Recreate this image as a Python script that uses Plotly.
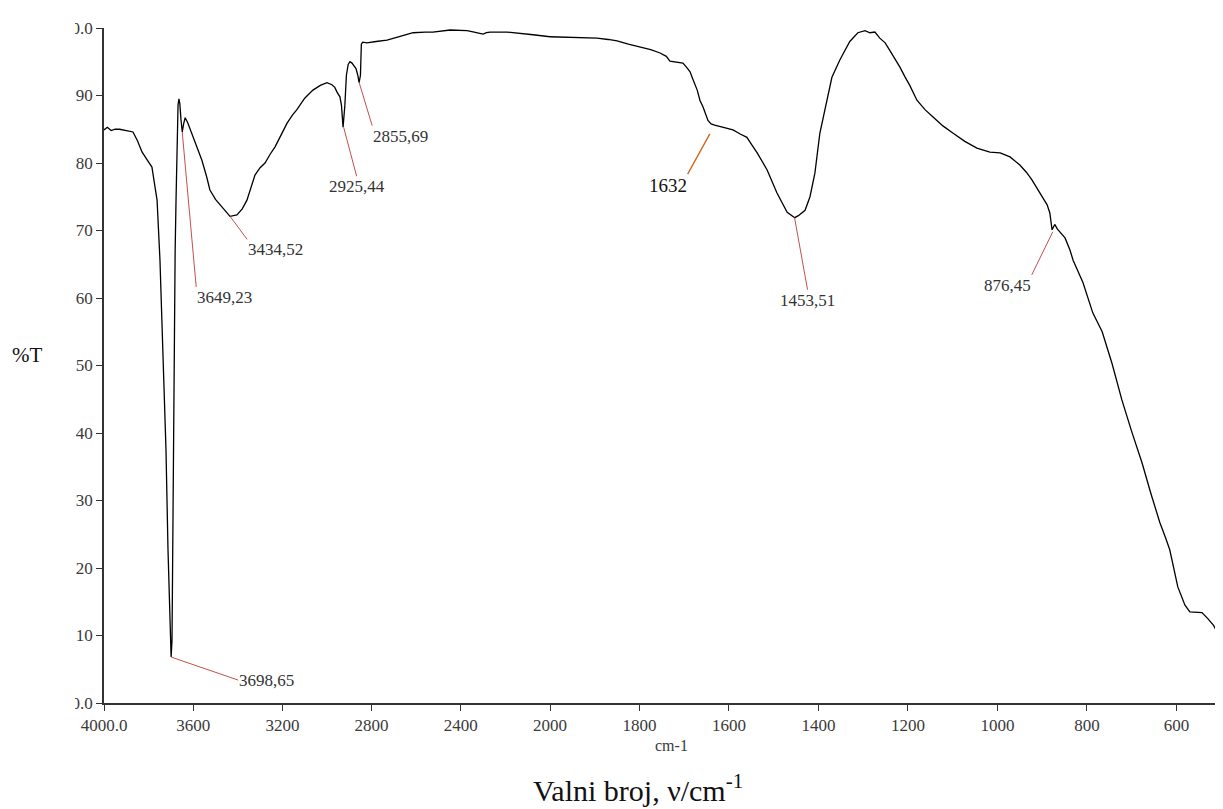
import plotly.graph_objects as go

# ---------------- data ----------------
wavenumber = [4000, 3985, 3968, 3950, 3930, 3910, 3890, 3870, 3850, 3829, 3805, 3785, 3771, 3762,
              3749, 3735, 3722, 3713, 3704, 3699, 3695, 3690, 3686, 3681, 3677, 3672, 3668, 3664,
              3660, 3655, 3649, 3643, 3636, 3625, 3612, 3601, 3580, 3561, 3540, 3525, 3500, 3480,
              3455, 3435, 3404, 3380, 3359, 3340, 3323, 3300, 3278, 3255, 3233, 3205, 3179, 3155,
              3135, 3100, 3063, 3030, 3000, 2978, 2965, 2955, 2942, 2935, 2928, 2920, 2913, 2905,
              2897, 2888, 2880, 2870, 2862, 2856, 2850, 2846, 2840, 2821, 2780, 2731, 2680, 2614,
              2560, 2525, 2448, 2400, 2372, 2340, 2310, 2300, 2285, 2269, 2193, 2120, 2076, 2000,
              1950, 1895, 1870, 1850, 1825, 1799, 1775, 1754, 1740, 1732, 1715, 1703, 1695, 1687,
              1680, 1671, 1665, 1658, 1647, 1640, 1632, 1613, 1591, 1575, 1560, 1549, 1537, 1515,
              1493, 1470, 1453, 1445, 1430, 1419, 1408, 1397, 1381, 1370, 1352, 1330, 1312, 1296,
              1285, 1274, 1263, 1251, 1240, 1229, 1218, 1207, 1196, 1180, 1162, 1144, 1122, 1099,
              1073, 1046, 1017, 994, 972, 950, 935, 923, 905, 889, 883, 878, 872, 866, 849, 838,
              831, 809, 787, 766, 744, 722, 700, 677, 657, 637, 625, 615, 597, 581, 570, 555, 543,
              530, 517, 505, 496]
transmittance = [84.9, 85.3, 84.8, 85.0, 85.0, 84.9, 84.8, 84.6, 83.3, 81.6, 80.4, 79.4, 76.4, 74.5,
                 65.6, 52.3, 37.5, 22.7, 9.3, 6.8, 9.3, 30.0, 52.0, 67.0, 74.5, 85.0, 88.6, 89.5,
                 88.8, 86.5, 84.6, 85.8, 86.7, 86.0, 84.8, 83.9, 82.1, 80.4, 78.0, 76.0, 74.6, 73.8,
                 72.8, 72.1, 72.3, 73.2, 74.5, 76.5, 78.2, 79.3, 80.0, 81.3, 82.4, 84.2, 85.9, 87.1,
                 87.9, 89.6, 90.8, 91.5, 91.9, 91.6, 91.2, 90.5, 89.8, 88.5, 85.3, 88.5, 93.0, 94.6,
                 95.0, 94.8, 94.5, 94.0, 93.0, 91.9, 93.0, 97.6, 97.9, 97.8, 98.0, 98.2, 98.7, 99.3,
                 99.4, 99.4, 99.7, 99.6, 99.6, 99.4, 99.2, 99.1, 99.3, 99.4, 99.4, 99.2, 99.0, 98.7,
                 98.6, 98.5, 98.3, 98.1, 97.6, 97.2, 96.8, 96.3, 95.8, 95.1, 94.9, 94.8, 94.2, 93.5,
                 92.3, 90.8, 89.3, 88.3, 86.3, 85.8, 85.6, 85.3, 84.9, 84.3, 83.8, 82.7, 81.5, 79.0,
                 75.6, 72.7, 71.9, 72.2, 73.0, 75.0, 78.5, 84.4, 89.3, 92.7, 95.3, 98.0, 99.3, 99.6,
                 99.3, 99.4, 98.5, 97.8, 96.6, 95.5, 94.2, 92.8, 91.5, 89.3, 87.9, 86.8, 85.5, 84.4,
                 83.2, 82.2, 81.6, 81.5, 80.9, 79.7, 78.6, 77.5, 75.6, 73.8, 72.6, 70.1, 70.9, 70.2,
                 68.9, 67.1, 65.6, 62.3, 57.8, 55.0, 50.3, 44.9, 40.2, 35.6, 31.0, 26.7, 24.6, 22.7,
                 17.2, 14.5, 13.5, 13.5, 13.4, 12.5, 11.5, 10.0, 8.3]

# axis break (scale changes at 2000 cm-1)
break_wn = 2000
x_high_ticks = [4000, 3600, 3200, 2800, 2400, 2000]
x_high_text = ["4000.0", "3600", "3200", "2800", "2400", "2000"]
x_low_ticks = [1800, 1600, 1400, 1200, 1000, 800, 600]
x_low_text = ["1800", "1600", "1400", "1200", "1000", "800", "600"]
y_ticks = [0, 10, 20, 30, 40, 50, 60, 70, 80, 90, 100]
y_text = ["0.0", "10", "20", "30", "40", "50", "60", "70", "80", "90", "100.0"]

# labelled peaks
peak_wn = [3698.65, 3649.23, 3434.52, 2925.44, 2855.69, 1632, 1453.51, 876.45]
peak_t = [6.8, 84.6, 72.1, 85.3, 91.9, 85.6, 71.9, 69.8]
peak_text = ["3698,65", "3649,23", "3434,52", "2925,44", "2855,69", "1632", "1453,51", "876,45"]

# ---------------- figure ----------------
hi_x = [w for w in wavenumber if w >= break_wn]
hi_y = [t for w, t in zip(wavenumber, transmittance) if w >= break_wn]
lo_x = [w for w in wavenumber if w <= break_wn]
lo_y = [t for w, t in zip(wavenumber, transmittance) if w <= break_wn]

FONT = "Liberation Serif, Times New Roman, serif"
AX = "#333333"
PW = 1119.0   # plot-area width in px (on the page)
PH = 675.0    # plot-area height in px
split = (550 - 104) / PW

fig = go.Figure()
fig.add_trace(go.Scatter(x=hi_x, y=hi_y, mode="lines", xaxis="x", yaxis="y",
                         line=dict(color="black", width=1.3), showlegend=False, hoverinfo="x+y"))
fig.add_trace(go.Scatter(x=lo_x, y=lo_y, mode="lines", xaxis="x2", yaxis="y",
                         line=dict(color="black", width=1.3), showlegend=False, hoverinfo="x+y"))

common_x = dict(showline=True, linecolor=AX, linewidth=1.5, ticks="outside", ticklen=6,
                tickcolor=AX, tickwidth=1, showgrid=False, zeroline=False,
                tickfont=dict(family=FONT, size=17, color="#3a3a3a"), anchor="y")
fig.update_layout(
    width=1232, height=809, autosize=False,
    margin=dict(l=96, r=0, t=20, b=114, pad=0),
    paper_bgcolor="white", plot_bgcolor="white",
    font=dict(family=FONT, color="#333333"),
    xaxis=dict(domain=[0, split], range=[4000, break_wn], tickmode="array",
               tickvals=x_high_ticks, ticktext=x_high_text, **common_x),
    xaxis2=dict(domain=[split, 1], range=[break_wn, 496], tickmode="array",
                tickvals=x_low_ticks, ticktext=x_low_text, **common_x),
    yaxis=dict(range=[0, 100], tickmode="array", tickvals=y_ticks, ticktext=y_text,
               showline=True, linecolor=AX, linewidth=1.5, ticks="outside", ticklen=6,
               tickcolor=AX, tickwidth=1, showgrid=False, zeroline=False,
               ticklabelstandoff=0,
               tickfont=dict(family=FONT, size=17, color="#3a3a3a")),
)

# white strip that crops the left of the y tick labels (as in the reference)
fig.add_shape(type="rect", xref="paper", yref="paper",
              x0=-0.2, x1=(75 - 104) / PW, y0=-0.02, y1=1.05,
              fillcolor="white", line=dict(width=0), layer="above")

# leader lines: tail offset (px) from the peak, text anchored at the tail
tail_dx = [67, 14, 17, 13, 13, -27, 13, -21]
tail_dy = [23, 155, 23, 49, 43, 49, 72, 43]
anc_x = ["left", "left", "left", "center", "left", "right", "center", "right"]
anc_y = ["middle", "top", "top", "top", "top", "top", "top", "top"]
line_col = ["#c0504d"] * 5 + ["#d2691e"] + ["#c0504d"] * 2

for i, (w, t, s) in enumerate(zip(peak_wn, peak_t, peak_text)):
    xr = "x" if w >= break_wn else "x2"
    fig.add_annotation(x=w, y=t, xref=xr, yref="y", text=s, showarrow=True,
                       arrowhead=0, arrowwidth=1.4 if i == 5 else 1, arrowcolor=line_col[i],
                       ax=tail_dx[i], ay=tail_dy[i], standoff=10 if i == 5 else 0,
                       xanchor=anc_x[i], yanchor=anc_y[i], borderpad=0,
                       font=dict(family=FONT, size=19 if i == 5 else 17,
                                 color="#111111" if i == 5 else "#333333"))

# axis and figure labels
fig.add_annotation(xref="paper", yref="paper", x=(27 - 104) / PW, y=(703 - 355) / PH,
                   xanchor="center", yanchor="middle",
                   text="%T", showarrow=False, font=dict(family=FONT, size=21, color="#111111"))
fig.add_annotation(xref="paper", yref="paper", x=(671 - 104) / PW, y=(703 - 745) / PH,
                   xanchor="center", yanchor="middle",
                   text="cm-1", showarrow=False, font=dict(family=FONT, size=16, color="#3a3a3a"))
fig.add_annotation(xref="paper", yref="paper", x=(638 - 104) / PW, y=(703 - 788) / PH,
                   xanchor="center", yanchor="middle",
                   text="Valni broj, \u03bd/cm<sup>-1</sup>", showarrow=False,
                   font=dict(family=FONT, size=30, color="#111111"))

fig.write_html("out.html", post_script="document.documentElement.style.overflow='hidden';")
